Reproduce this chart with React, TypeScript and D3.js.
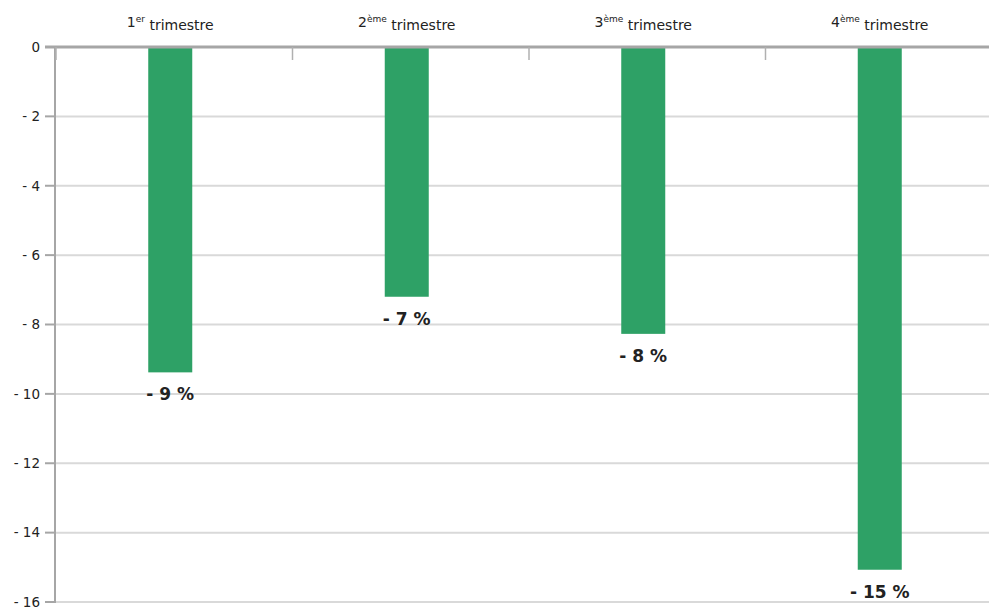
import React from "react";
import * as d3 from "d3";

const categories = ["1", "2", "3", "4"];
const categorySup = ["er", "ème", "ème", "ème"];
const categorySuffix = "trimestre";
const values = [-9.38, -7.2, -8.27, -15.07];
const valueLabels = ["- 9 %", "- 7 %", "- 8 %", "- 15 %"];
const yTicks = [0, -2, -4, -6, -8, -10, -12, -14, -16];

const W = 989;
const H = 610;
const left = 55;
const top = 47;
const bottom = 602;
const bandW = 236.5;

export default function App() {
  const x = d3
    .scaleBand<string>()
    .domain(categories)
    .range([left, left + bandW * categories.length])
    .paddingInner(0)
    .paddingOuter(0);
  const y = d3.scaleLinear().domain([0, -16]).range([top, bottom]);
  const barW = 44;
  const fmt = (v: number) => (v === 0 ? "0" : "- " + Math.abs(v));
  const font = "'DejaVu Sans', Verdana, sans-serif";

  return (
    <svg
      width={W}
      height={H}
      style={{ position: "absolute", left: 0, top: 0, display: "block", background: "#fff" }}
      fontFamily={font}
    >
      {yTicks.filter((t) => t !== 0).map((t) => (
        <line key={"g" + t} x1={left} x2={W} y1={y(t)} y2={y(t)} stroke="#d9d9d9" strokeWidth={2} />
      ))}
      {yTicks.map((t) => (
        <g key={"t" + t}>
          <line x1={45} x2={left} y1={y(t)} y2={y(t)} stroke="#a6a6a6" strokeWidth={2} />
          <text x={40} y={y(t)} dy="0.36em" textAnchor="end" fontSize={13.5} fill="#222">
            {fmt(t)}
          </text>
        </g>
      ))}
      {categories.map((c, i) => {
        const cx = (x(c) as number) + x.bandwidth() / 2 - 3;
        return (
          <g key={"b" + c}>
            <rect x={cx - barW / 2} y={y(0)} width={barW} height={y(values[i]) - y(0)} fill="#2ea166" />
            <text
              x={cx}
              y={y(values[i]) + 22}
              dy="0.36em"
              textAnchor="middle"
              fontSize={17}
              fontWeight="bold"
              fill="#222"
            >
              {valueLabels[i]}
            </text>
          </g>
        );
      })}
      <line x1={left} x2={left} y1={top} y2={bottom + 1} stroke="#a6a6a6" strokeWidth={2} />
      <line x1={45} x2={W} y1={top} y2={top} stroke="#a6a6a6" strokeWidth={3} />
      {categories.map((c) => (
        <line
          key={"ct" + c}
          x1={(x(c) as number) + 1}
          x2={(x(c) as number) + 1}
          y1={top}
          y2={top + 13}
          stroke="#b0b0b0"
          strokeWidth={1.5}
        />
      ))}
      {categories.map((c, i) => {
        const cx = (x(c) as number) + x.bandwidth() / 2 - 3;
        return (
          <text key={"cl" + c} x={cx} y={22} dy="0.36em" textAnchor="middle" fontSize={14} fill="#222">
            {c}
            <tspan fontSize={9} dy="-0.55em">{categorySup[i]}</tspan>
            <tspan dy="0.55em">{"\u00a0" + categorySuffix}</tspan>
          </text>
        );
      })}
    </svg>
  );
}
